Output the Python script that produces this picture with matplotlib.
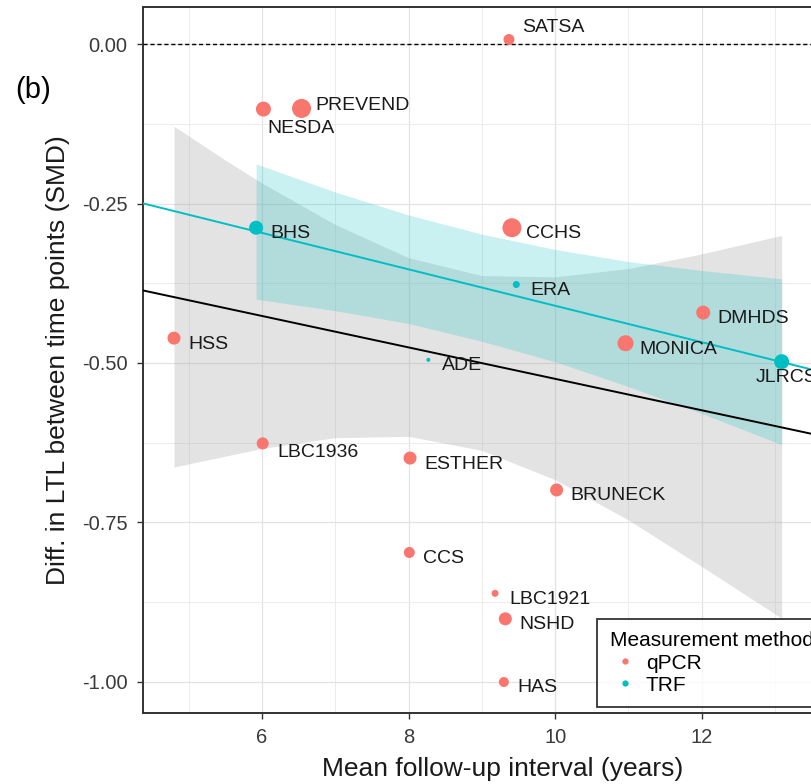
import matplotlib
matplotlib.use('Agg')
import matplotlib.pyplot as plt
from matplotlib.lines import Line2D
from matplotlib.ticker import MultipleLocator

plt.rcParams['font.family'] = ['Liberation Sans', 'DejaVu Sans']

# study-level data
studies = ['SATSA', 'NESDA', 'PREVEND', 'BHS', 'CCHS', 'ERA', 'DMHDS', 'MONICA', 'JLRCS',
           'ADE', 'HSS', 'LBC1936', 'ESTHER', 'BRUNECK', 'CCS', 'LBC1921', 'NSHD', 'HAS']
follow_up = [9.37, 6.02, 6.54, 5.92, 9.41, 9.47, 12.02, 10.96, 13.09,
             8.27, 4.80, 6.01, 8.02, 10.02, 8.01, 9.18, 9.32, 9.30]
ltl_diff = [0.007, -0.102, -0.101, -0.288, -0.288, -0.377, -0.421, -0.469, -0.498,
            -0.495, -0.461, -0.626, -0.649, -0.699, -0.797, -0.861, -0.901, -1.000]
method = ['qPCR', 'qPCR', 'qPCR', 'TRF', 'qPCR', 'TRF', 'qPCR', 'qPCR', 'TRF',
          'TRF', 'qPCR', 'qPCR', 'qPCR', 'qPCR', 'qPCR', 'qPCR', 'qPCR', 'qPCR']
weight = [11, 15, 19, 14, 19, 7, 14, 16, 15,
          4, 13, 12, 13, 13, 11, 7, 13, 10]

# fitted lines (all studies / TRF only)
line_x = [4.0, 15.0]
fit_all = [-0.377, -0.648]
fit_trf = [-0.239, -0.553]

# confidence bands
band_all_x = [4.8, 5.5, 6, 7, 8, 9, 10, 11, 12, 13.09]
band_all_hi = [-0.129, -0.182, -0.218, -0.283, -0.335, -0.363, -0.365, -0.352, -0.329, -0.300]
band_all_lo = [-0.663, -0.646, -0.634, -0.617, -0.615, -0.637, -0.683, -0.746, -0.819, -0.900]
band_trf_x = [5.92, 7, 8, 9, 10, 11, 12, 13.09]
band_trf_hi = [-0.188, -0.232, -0.268, -0.298, -0.322, -0.341, -0.355, -0.368]
band_trf_lo = [-0.400, -0.418, -0.438, -0.466, -0.498, -0.537, -0.579, -0.628]

colors = {'qPCR': '#F8766D', 'TRF': '#00BFC4'}

# label offsets in pixels (default right and slightly below)
default_off = (14, -6)
label_off = {'SATSA': (13, 12), 'PREVEND': (14, 3), 'NESDA': (4, -19),
             'JLRCS': (-26, -16), 'LBC1936': (15, -9)}

fig = plt.figure(figsize=(8.11, 7.84), dpi=100)
ax = fig.add_axes([143 / 811, 71 / 784, 720 / 811, 706 / 784])

ax.set_xlim(4.377, 14.2)
ax.set_ylim(-1.0486, 0.058)

ax.xaxis.set_major_locator(MultipleLocator(2))
ax.xaxis.set_minor_locator(MultipleLocator(1))
yt = [0.0, -0.25, -0.5, -0.75, -1.0]
ax.set_yticks(yt, ['%.2f' % v if v == 0 else '-%.2f' % abs(v) for v in yt])
ax.set_yticks([-0.125, -0.375, -0.625, -0.875], minor=True)
ax.grid(which='major', color='#e3e3e3', linewidth=0.9, zorder=0)
ax.grid(which='minor', color='#ececec', linewidth=0.7, zorder=0)
ax.set_axisbelow(True)
ax.tick_params(which='minor', length=0)
ax.tick_params(which='major', length=4, width=1, color='#333333', labelsize=14.5,
               labelcolor='#3a3a3a', pad=7)
for s in ax.spines.values():
    s.set_color('#333333')
    s.set_linewidth(1.4)

ax.fill_between(band_all_x, band_all_lo, band_all_hi, color='#a8a8a8', alpha=0.32,
                linewidth=0, zorder=1)
ax.fill_between(band_trf_x, band_trf_lo, band_trf_hi, color='#00BFC4', alpha=0.21,
                linewidth=0, zorder=2)
ax.plot(line_x, fit_all, color='black', linewidth=1.4, zorder=3)
ax.plot(line_x, fit_trf, color='#00BFC4', linewidth=1.4, zorder=3)
ax.axhline(0, color='black', linestyle=(0, (3, 2)), linewidth=1.0, zorder=3)

for name, x, y, m, w in zip(studies, follow_up, ltl_diff, method, weight):
    ax.scatter(x, y, s=(w * 0.72) ** 2, color=colors[m], edgecolors='none', zorder=4)
    dx, dy = label_off.get(name, default_off)
    ax.annotate(name, (x, y), xytext=(dx, dy), textcoords='offset pixels',
                ha='left', va='center', fontsize=14, color='#1a1a1a', zorder=5)

ax.set_xlabel('Mean follow-up interval (years)', fontsize=19, color='#1a1a1a', labelpad=7)
ax.set_ylabel('Diff. in LTL between time points (SMD)', fontsize=19, color='#1a1a1a',
              labelpad=9)

fig.text(15 / 811, 1 - 90 / 784, '(b)', fontsize=21, ha='left', va='center')

handles = [Line2D([], [], marker='o', linestyle='none', markersize=4.5,
                  markerfacecolor=colors[k], markeredgecolor='none', label=k)
           for k in ['qPCR', 'TRF']]
leg = ax.legend(handles=handles, title='Measurement method', loc='upper left',
                bbox_to_anchor=(597 / 811, 1 - 619 / 784), bbox_transform=fig.transFigure,
                fontsize=15, title_fontsize=15, alignment='left', frameon=True,
                fancybox=False, borderpad=0.6, handlelength=1.5, handletextpad=0.25,
                labelspacing=0.15, borderaxespad=0)
leg.get_frame().set_edgecolor('black')
leg.get_frame().set_linewidth(1.3)
leg.set_zorder(6)

fig.savefig('out.png', dpi=100)
